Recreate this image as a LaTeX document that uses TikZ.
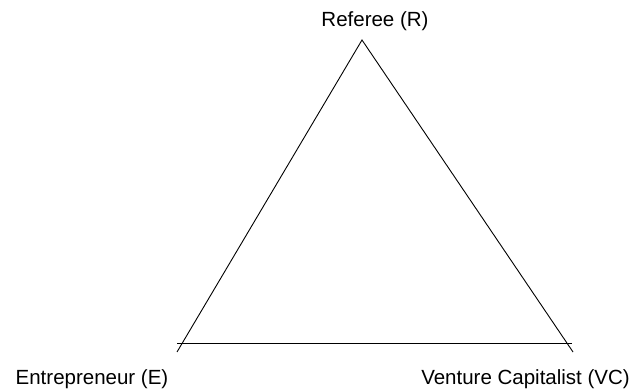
\documentclass[tikz,border=0pt]{standalone}
\usepackage{fontspec}
\setmainfont{Liberation Sans}
\begin{document}
\begin{tikzpicture}[x=1pt,y=1pt,
  lbl/.style={inner sep=0pt,anchor=base,font=\fontsize{20.5}{24}\selectfont},
  edge/.style={line width=0.9pt,black}]
\useasboundingbox (0,0) rectangle (634,391);
\coordinate (apex) at (362,351);
\coordinate (lend) at (177,39);
\coordinate (rend) at (573,39);
\coordinate (hl) at (177,48);
\coordinate (hr) at (572,48);
\draw[edge] (lend) -- (apex) -- (rend);
\draw[edge] (hl) -- (hr);
\node[lbl] (R) at (375,364) {Referee (R)};
\node[lbl] (E) at (92,7) {Entrepreneur (E)};
\node[lbl,anchor=base east] (VC) at (630,7) {Venture Capitalist (VC)};
\end{tikzpicture}
\end{document}
